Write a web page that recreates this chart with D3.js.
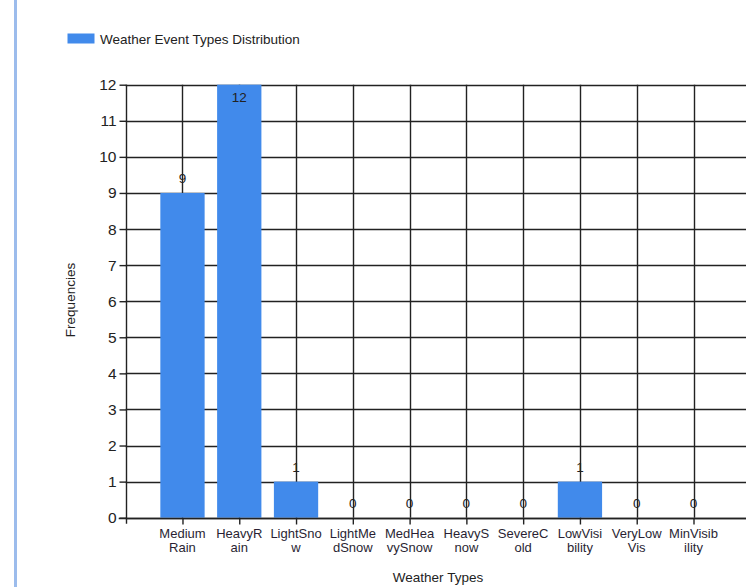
<!DOCTYPE html>
<html>
<head>
<meta charset="utf-8">
<script src="https://cdn.jsdelivr.net/npm/d3@7"></script>
<style>
  html, body { margin: 0; padding: 0; background: #fff; overflow: hidden; }
  svg { display: block; font-family: Arial, "Liberation Sans", sans-serif; }
</style>
</head>
<body>
<svg id="chart" width="746" height="587"></svg>
<script>
// Weather event categories and their observed frequencies
const categories = ["Medium Rain", "HeavyRain", "LightSnow", "LightMedSnow", "MedHeavySnow",
                    "HeavySnow", "SevereCold", "LowVisibility", "VeryLowVis", "MinVisibility"];
const frequencies = [9, 12, 1, 0, 0, 0, 0, 1, 0, 0];
// Category labels as wrapped onto two lines under the axis
const categoryLabelLines = [
  ["Medium", "Rain"], ["HeavyR", "ain"], ["LightSno", "w"], ["LightMe", "dSnow"],
  ["MedHea", "vySnow"], ["HeavyS", "now"], ["SevereC", "old"], ["LowVisi", "bility"],
  ["VeryLow", "Vis"], ["MinVisib", "ility"]
];
const yTicks = [0, 1, 2, 3, 4, 5, 6, 7, 8, 9, 10, 11, 12];
const seriesName = "Weather Event Types Distribution";
const xTitle = "Weather Types";
const yTitle = "Frequencies";

const barColor = "#418aeb";
const gridColor = "#222";

const svg = d3.select("#chart");

// Window frame accent on the left
svg.append("rect")
  .attr("x", 14).attr("y", 0).attr("width", 3).attr("height", 587)
  .attr("fill", "#9cbcec");

// Plot geometry
const plotLeft = 125.7, plotTop = 84.7, plotBottom = 517.7;
const slot = 56.78; // one category unit

// Category positions 1..N on a linear axis running from 0 to N+1
const x = d3.scaleLinear()
  .domain([0, categories.length + 1])
  .range([plotLeft, plotLeft + slot * (categories.length + 1)]);

const y = d3.scaleLinear()
  .domain([0, d3.max(yTicks)])
  .range([plotBottom, plotTop]);

const idx = categories.map((d, i) => i + 1);
const rightEdge = x(categories.length + 1);

// Horizontal gridlines
svg.append("g")
  .selectAll("line")
  .data(yTicks)
  .join("line")
  .attr("x1", plotLeft).attr("x2", rightEdge)
  .attr("y1", d => Math.round(y(d)) + 0.5).attr("y2", d => Math.round(y(d)) + 0.5)
  .attr("stroke", gridColor).attr("stroke-width", 1.4);

// Vertical gridlines at each category
svg.append("g")
  .selectAll("line")
  .data(idx)
  .join("line")
  .attr("x1", d => Math.round(x(d)) + 0.5).attr("x2", d => Math.round(x(d)) + 0.5)
  .attr("y1", plotTop).attr("y2", plotBottom)
  .attr("stroke", gridColor).attr("stroke-width", 1.4);

// Bars
const barW = slot * 0.78;
svg.append("g")
  .selectAll("rect")
  .data(frequencies.map((v, i) => ({ v, i: i + 1 })).filter(d => d.v > 0))
  .join("rect")
  .attr("x", d => x(d.i) - barW / 2)
  .attr("y", d => y(d.v))
  .attr("width", barW)
  .attr("height", d => y(0) - y(d.v))
  .attr("fill", barColor);

// Value labels: above the bar, or just inside when there is no room above
svg.append("g")
  .selectAll("text")
  .data(frequencies.map((v, i) => ({ v, i: i + 1 })))
  .join("text")
  .attr("x", d => x(d.i))
  .attr("y", d => (y(d.v) - 21 < plotTop ? y(d.v) + 17 : y(d.v) - 10))
  .attr("text-anchor", "middle")
  .attr("font-size", 13.5)
  .attr("fill", "#222")
  .text(d => d.v);

// Y axis
const yAxis = svg.append("g")
  .attr("transform", `translate(${Math.round(plotLeft) + 0.5},0)`)
  .call(d3.axisLeft(y).tickValues(yTicks).tickSize(7).tickPadding(3).tickFormat(d3.format("d")));
yAxis.select(".domain").remove();
yAxis.selectAll(".tick line").attr("stroke", gridColor).attr("stroke-width", 1.4);
yAxis.selectAll(".tick text")
  .attr("font-size", 15.5).attr("fill", "#222")
  .attr("font-family", "Arial, 'Liberation Sans', sans-serif");
yAxis.append("line")
  .attr("y1", plotTop).attr("y2", plotBottom + 6)
  .attr("stroke", gridColor).attr("stroke-width", 1.4);

// X axis
const xAxis = svg.append("g")
  .attr("transform", `translate(0,${Math.round(plotBottom) + 0.5})`)
  .call(d3.axisBottom(x).tickValues(idx).tickSize(6).tickFormat(""));
xAxis.select(".domain").remove();
xAxis.selectAll(".tick line").attr("stroke", gridColor).attr("stroke-width", 1.4);
xAxis.append("line")
  .attr("x1", plotLeft - 7).attr("x2", rightEdge)
  .attr("stroke", gridColor).attr("stroke-width", 1.4);

// Wrapped category labels
const labels = svg.append("g")
  .selectAll("text")
  .data(categoryLabelLines.map((lines, i) => ({ lines, i: i + 1 })))
  .join("text")
  .attr("text-anchor", "middle")
  .attr("font-size", 13)
  .attr("fill", "#2a1f33");
labels.selectAll("tspan")
  .data(d => d.lines.map((t, k) => ({ t, k, i: d.i })))
  .join("tspan")
  .attr("x", d => x(d.i))
  .attr("y", d => 538 + d.k * 13.5)
  .text(d => d.t);

// Axis titles
svg.append("text")
  .attr("x", 438).attr("y", 582)
  .attr("text-anchor", "middle")
  .attr("font-size", 13.5).attr("fill", "#222")
  .text(xTitle);

svg.append("text")
  .attr("transform", "translate(75,300) rotate(-90)")
  .attr("text-anchor", "middle")
  .attr("font-size", 13.5).attr("fill", "#222")
  .text(yTitle);

// Legend
const legend = svg.append("g");
legend.append("rect")
  .attr("x", 67.5).attr("y", 33.5).attr("width", 27).attr("height", 10)
  .attr("fill", barColor);
legend.append("text")
  .attr("x", 100).attr("y", 44)
  .attr("font-size", 13.5).attr("fill", "#222")
  .text(seriesName);
</script>
</body>
</html>
